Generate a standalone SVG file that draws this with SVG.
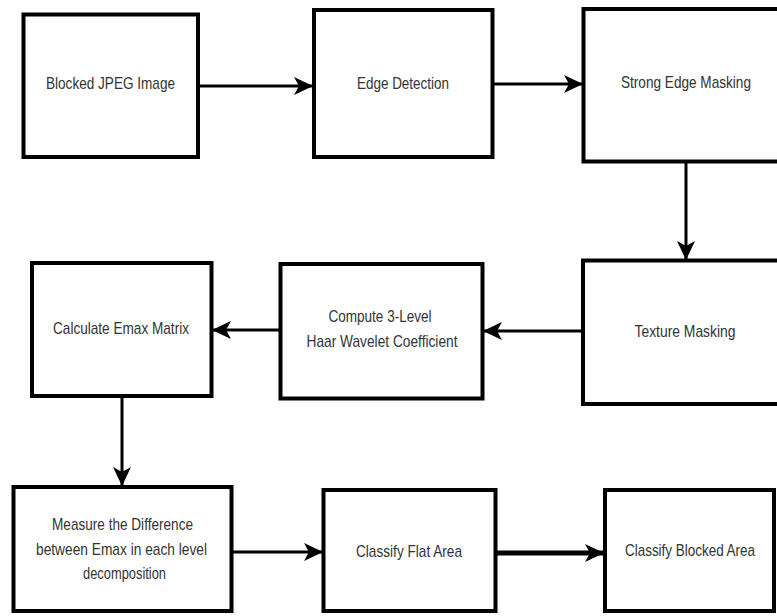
<svg xmlns="http://www.w3.org/2000/svg" width="777" height="616" viewBox="0 0 777 616">
<style>
.box{fill:#fff;stroke:#000;stroke-width:4}
.lbl{font-family:"Liberation Sans",Arial,sans-serif;font-size:17px;fill:#333;text-anchor:middle}
.cn{fill:none;stroke:#000;stroke-width:3}
.thick{stroke-width:5}
</style>
<defs>
<marker id="ah" markerUnits="userSpaceOnUse" markerWidth="20" markerHeight="18" refX="18" refY="9" orient="auto" viewBox="0 0 20 18">
<path d="M0,0 L19,9 L0,18 L5,9 z" fill="#000"/>
</marker>
</defs>
<rect width="777" height="616" fill="#fff"/>
<g id="n1"><rect class="box" x="23.5" y="14.5" width="174.5" height="142.5"/><text class="lbl" x="110.5" y="89" textLength="129" lengthAdjust="spacingAndGlyphs">Blocked JPEG Image</text></g>
<g id="n2"><rect class="box" x="314" y="10" width="178.5" height="147"/><text class="lbl" x="403" y="89" textLength="92" lengthAdjust="spacingAndGlyphs">Edge Detection</text></g>
<g id="n3"><rect class="box" x="583.5" y="9" width="210" height="152.5"/><text class="lbl" x="686" y="88" textLength="130" lengthAdjust="spacingAndGlyphs">Strong Edge Masking</text></g>
<g id="n4"><rect class="box" x="32" y="263" width="179.5" height="133"/><text class="lbl" x="121" y="334" textLength="136" lengthAdjust="spacingAndGlyphs">Calculate Emax Matrix</text></g>
<g id="n5"><rect class="box" x="280.5" y="264" width="202" height="134.5"/><text class="lbl" x="380" y="322" textLength="103" lengthAdjust="spacingAndGlyphs">Compute 3-Level</text><text class="lbl" x="382" y="347" textLength="151" lengthAdjust="spacingAndGlyphs">Haar Wavelet Coefficient</text></g>
<g id="n6"><rect class="box" x="583" y="260.5" width="210" height="143.5"/><text class="lbl" x="685" y="337" textLength="101" lengthAdjust="spacingAndGlyphs">Texture Masking</text></g>
<g id="n7"><rect class="box" x="13.5" y="487" width="218" height="124"/><text class="lbl" x="122.5" y="530" textLength="141" lengthAdjust="spacingAndGlyphs">Measure the Difference</text><text class="lbl" x="121.5" y="555" textLength="171" lengthAdjust="spacingAndGlyphs">between Emax in each level</text><text class="lbl" x="124.5" y="579" textLength="83" lengthAdjust="spacingAndGlyphs">decomposition</text></g>
<g id="n8"><rect class="box" x="323.5" y="490" width="172" height="121"/><text class="lbl" x="409" y="557" textLength="106" lengthAdjust="spacingAndGlyphs">Classify Flat Area</text></g>
<g id="n9"><rect class="box" x="605" y="490" width="169" height="121"/><text class="lbl" x="690" y="556" textLength="130" lengthAdjust="spacingAndGlyphs">Classify Blocked Area</text></g>
<g id="connectors">
<path class="cn" d="M200,86 H312" marker-end="url(#ah)"/>
<path class="cn" d="M494,84 H582" marker-end="url(#ah)"/>
<path class="cn" d="M686,163 V259" marker-end="url(#ah)"/>
<path class="cn" d="M581,331 H484" marker-end="url(#ah)"/>
<path class="cn" d="M279,330 H213" marker-end="url(#ah)"/>
<path class="cn" d="M122,398 V485" marker-end="url(#ah)"/>
<path class="cn" d="M233,552 H322" marker-end="url(#ah)"/>
<path class="cn thick" d="M497,553 H603" marker-end="url(#ah)"/>
</g>
</svg>
